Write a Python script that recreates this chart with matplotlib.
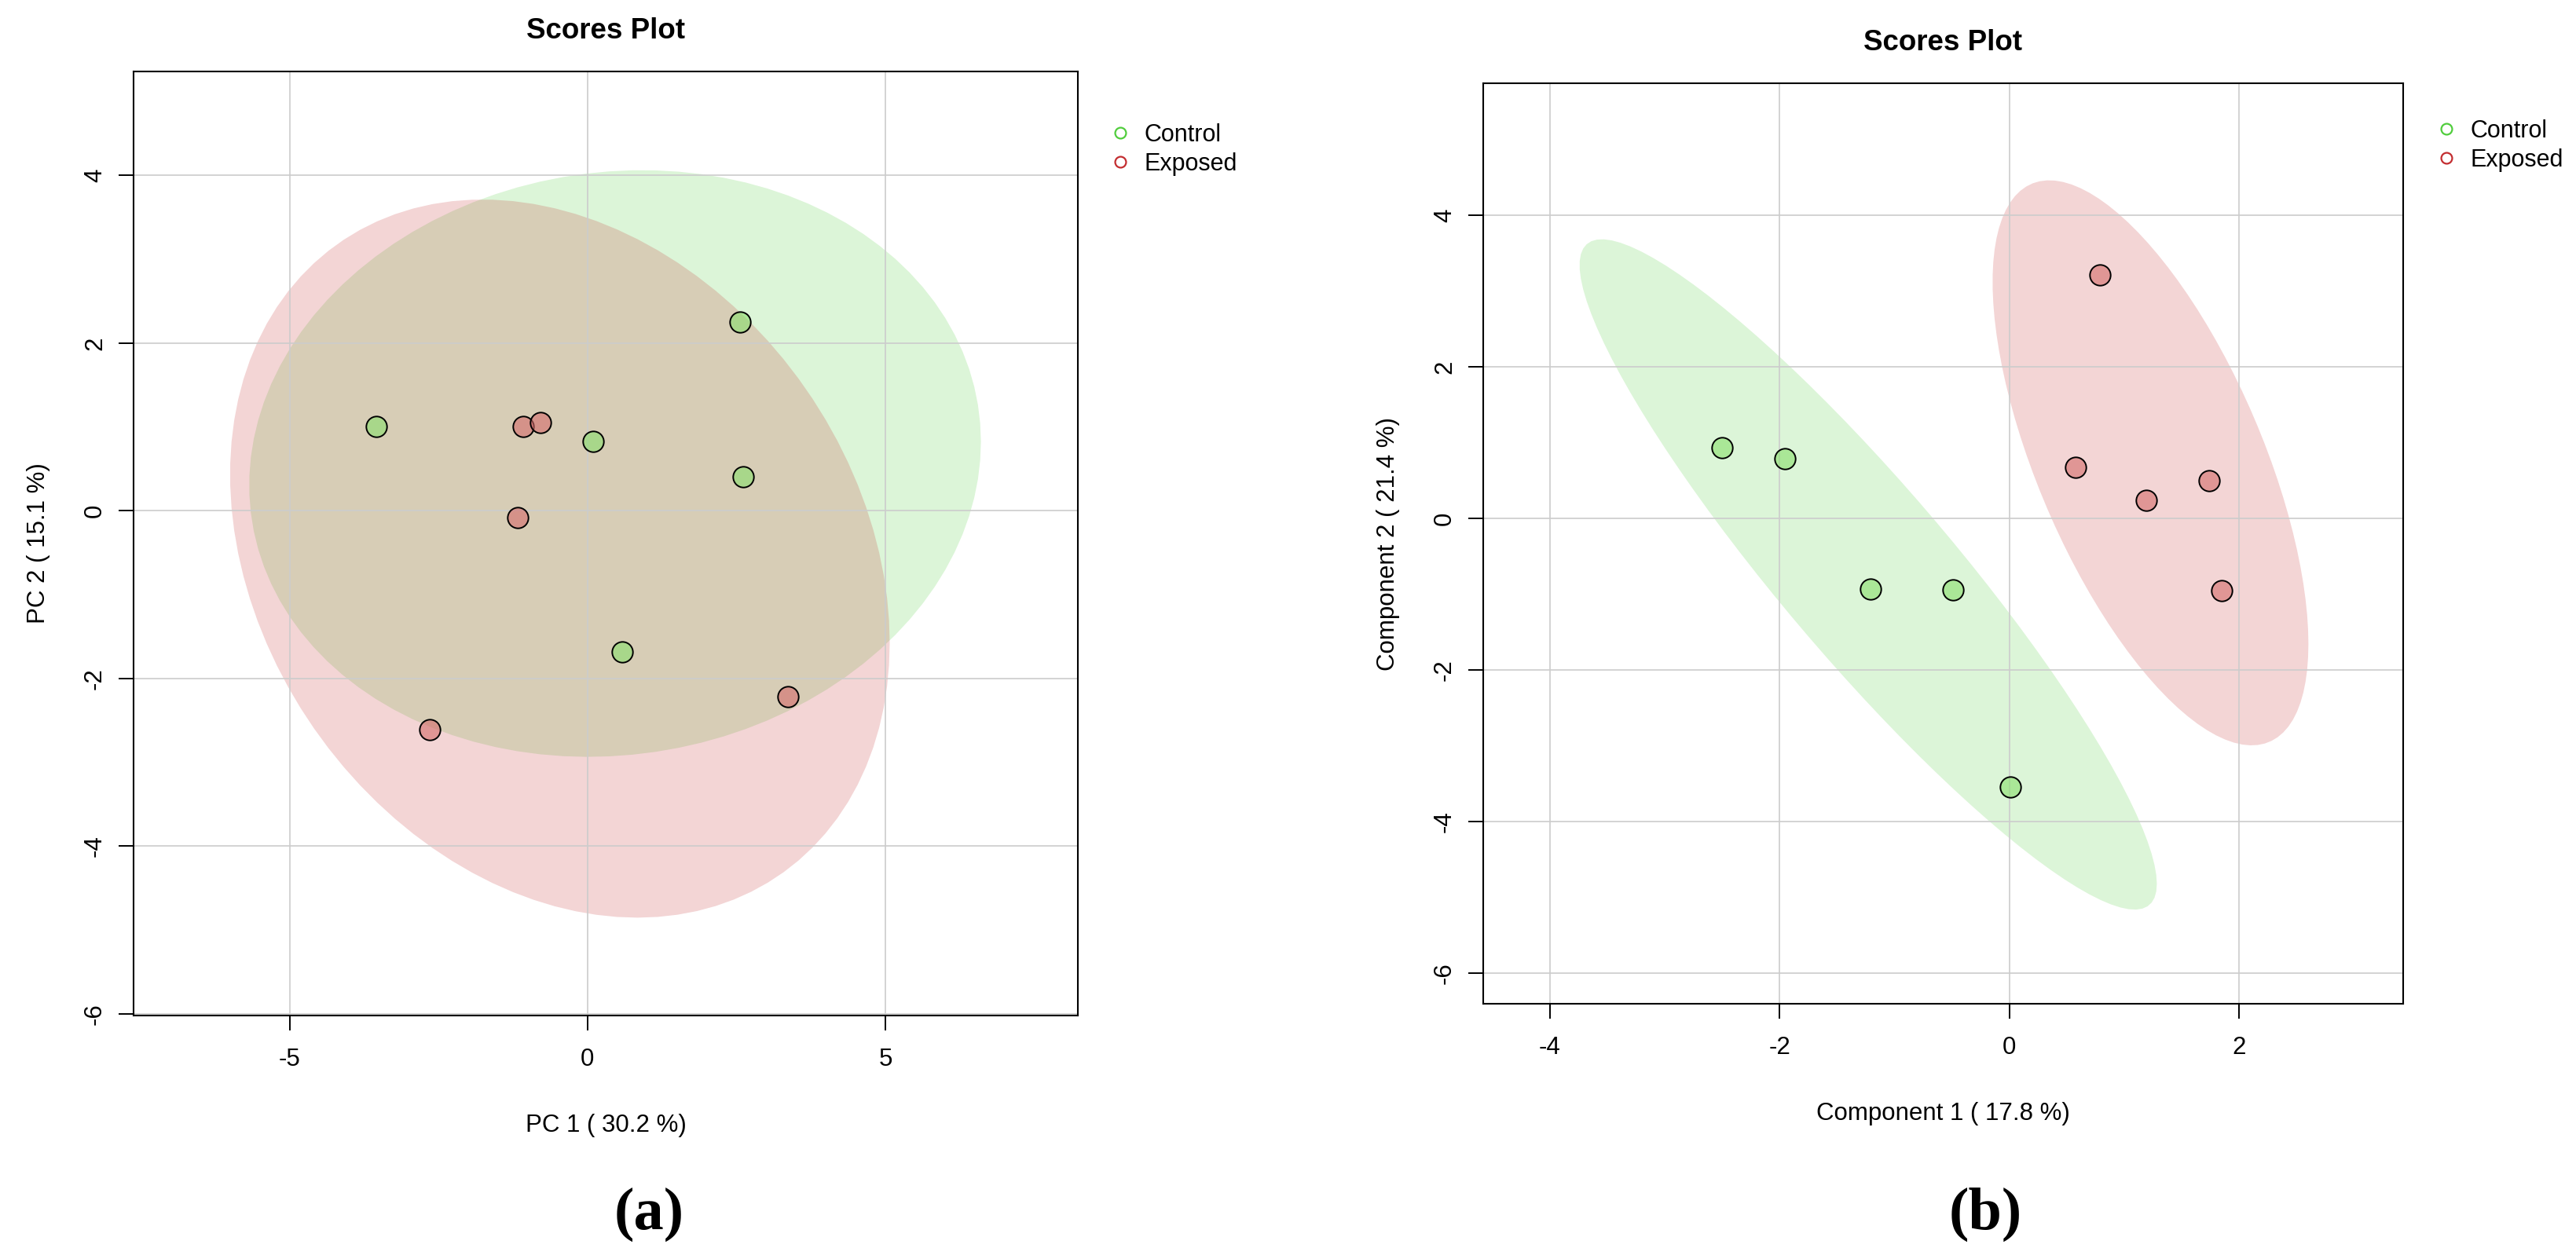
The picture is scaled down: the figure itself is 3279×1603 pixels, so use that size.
import numpy as np
import matplotlib
matplotlib.use('Agg')
import matplotlib.pyplot as plt
from matplotlib.lines import Line2D

plt.rcParams['font.family'] = ['Liberation Sans', 'DejaVu Sans']
plt.rcParams['axes.unicode_minus'] = False

# ---- data ----
groups = ['Control', 'Exposed']

# (a) PCA scores
pca_ctrl_x = [-3.54, 2.56, 0.10, 2.61, 0.58]
pca_ctrl_y = [1.01, 2.25, 0.83, 0.41, -1.68]
pca_exp_x = [-1.08, -0.79, -1.17, -2.65, 3.37]
pca_exp_y = [1.01, 1.05, -0.08, -2.61, -2.22]
pca_xlabel = 'PC 1 ( 30.2 %)'
pca_ylabel = 'PC 2 ( 15.1 %)'
pca_xticks = [-5, 0, 5]
pca_yticks = [-6, -4, -2, 0, 2, 4]

# (b) PLS-DA scores
pls_ctrl_x = [-2.50, -1.95, -1.21, -0.49, 0.01]
pls_ctrl_y = [0.93, 0.79, -0.93, -0.94, -3.54]
pls_exp_x = [0.79, 0.58, 1.19, 1.74, 1.85]
pls_exp_y = [3.21, 0.67, 0.24, 0.50, -0.95]
pls_xlabel = 'Component 1 ( 17.8 %)'
pls_ylabel = 'Component 2 ( 21.4 %)'
pls_xticks = [-4, -2, 0, 2]
pls_yticks = [-6, -4, -2, 0, 2, 4]

col_line = {'Control': '#50CD3C', 'Exposed': '#C32D30'}
col_pt = {'Control': (137/255, 223/255, 109/255, 0.6),
          'Exposed': (212/255, 108/255, 107/255, 0.6)}

W, H = 3279, 1603
fig = plt.figure(figsize=(W / 100, H / 100), dpi=100)


def px_box(l, t, r, b):
    return [l / W, 1 - b / H, (r - l) / W, (b - t) / H]


def conf_ellipse(x, y, level=0.95, n=100):
    # 95% normal-theory ellipse, same as ellipse::ellipse in R
    xy = np.column_stack([x, y])
    cov = np.cov(xy, rowvar=False)
    t = np.sqrt(-2 * np.log(1 - level))
    ang = np.linspace(0, 2 * np.pi, n)
    circ = np.column_stack([np.cos(ang), np.sin(ang)])
    L = np.linalg.cholesky(cov)
    return xy.mean(axis=0) + t * circ @ L.T


def scores_plot(ax, data, xlabel, ylabel, xticks, yticks, xlim, ylim):
    for g in groups:
        e = conf_ellipse(*data[g])
        ax.fill(e[:, 0], e[:, 1], color=col_line[g], alpha=0.2, lw=0, zorder=1)
    for g in groups:
        ax.scatter(*data[g], s=19 ** 2, c=[col_pt[g]], edgecolors='black',
                   linewidths=1.4, zorder=3)
    ax.set_xlim(*xlim)
    ax.set_ylim(*ylim)
    ax.set_xticks(xticks)
    ax.set_yticks(yticks)
    ax.grid(True, color='#CCCCCC', lw=1.2)
    for sp in ax.spines.values():
        sp.set_linewidth(1.5)
    ax.tick_params(length=13.5, width=1.4, labelsize=22.5)
    ax.tick_params(axis='x', pad=16)
    ax.tick_params(axis='y', pad=11)
    for lab in ax.get_yticklabels():
        lab.set_rotation(90)
        lab.set_va('center')
    ax.set_title('Scores Plot', fontsize=26.5, fontweight='bold', pad=30)
    ax.set_xlabel(xlabel, fontsize=22.5, labelpad=39)
    ax.set_ylabel(ylabel, fontsize=22.5, labelpad=30)


ax1 = fig.add_axes(px_box(170, 91, 1372, 1293))
scores_plot(ax1, {'Control': (pca_ctrl_x, pca_ctrl_y), 'Exposed': (pca_exp_x, pca_exp_y)},
            pca_xlabel, pca_ylabel, pca_xticks, pca_yticks, (-7.62, 8.23), (-6.02, 5.24))

ax2 = fig.add_axes(px_box(1888, 106, 3059, 1278))
scores_plot(ax2, {'Control': (pls_ctrl_x, pls_ctrl_y), 'Exposed': (pls_exp_x, pls_exp_y)},
            pls_xlabel, pls_ylabel, pls_xticks, pls_yticks, (-4.58, 3.43), (-6.40, 5.74))

handles = [Line2D([], [], ls='none', marker='o', ms=10, mfc='none',
                  mec=col_line[g], mew=1.6) for g in groups]
for x0, y0 in [(1411, 157), (3099, 152)]:
    fig.legend(handles, groups, loc='upper left', bbox_to_anchor=(x0 / W, 1 - y0 / H),
               frameon=False, fontsize=22, handlelength=1.0, handletextpad=0.5,
               labelspacing=0.23, borderpad=0, borderaxespad=0)

for lab, xc in [('(a)', 826), ('(b)', 2527)]:
    fig.text(xc / W, 1 - 1546 / H, lab, ha='center', va='center', fontsize=55,
             fontweight='bold', family=['Liberation Serif', 'DejaVu Serif'])

fig.savefig('out.png', dpi=100)
